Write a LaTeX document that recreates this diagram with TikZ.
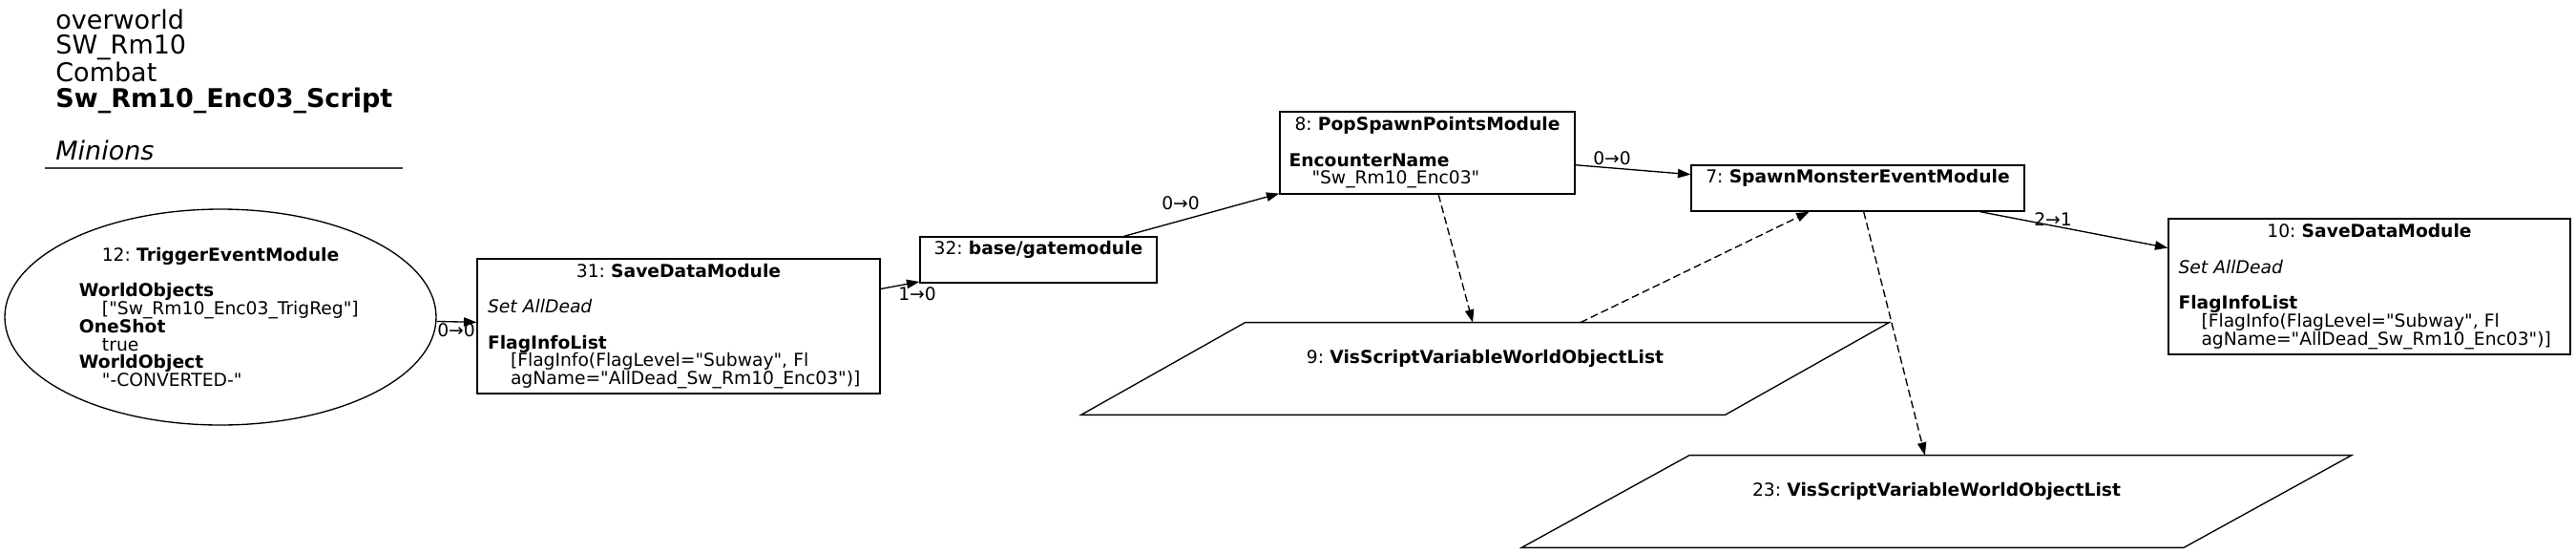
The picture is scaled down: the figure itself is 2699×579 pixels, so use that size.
\documentclass[tikz,border=0pt]{standalone}
\usepackage{fontspec}
\setmainfont{DejaVu Sans}[Ligatures=TeXOff]
\usetikzlibrary{arrows.meta}
\usetikzlibrary{shapes}
\usetikzlibrary{calc}
\frenchspacing
\newcommand{\nodefont}{\fontsize{9.35pt}{9.35pt}\selectfont}
\newcommand{\titlefont}{\fontsize{13.5pt}{13.35pt}\selectfont}
\newcommand{\ind}{\hspace*{12pt}}
\newcommand{\ctr}[1]{\makebox[\linewidth][c]{#1}}
\newcommand{\gap}{\\[9.35pt]}
\tikzset{
	module/.style={rectangle, draw, line width=0.67pt, inner sep=0pt, align=left, font=\nodefont}
}
\tikzstyle{oval}=[ellipse, draw, line width=0.67pt, inner sep=0pt, align=left, font=\nodefont]
\tikzstyle{varlist}=[rectangle, inner sep=0pt, align=center, text width=200pt, minimum height=48pt, font=\nodefont]
\tikzstyle{varshape}=[line width=0.67pt]
\tikzstyle{flow}=[-{Triangle[length=6.7pt,width=4.7pt]}, line width=0.67pt]
\tikzstyle{wire}=[flow, dash pattern=on 4pt off 2pt]
\tikzstyle{edgelabel}=[inner sep=0pt, anchor=base, font=\nodefont]

\begin{document}
\begin{tikzpicture}[x=0.5pt, y=-0.5pt]
	\useasboundingbox (0,0) rectangle (2699,579);
	% title
	\node[inner sep=0pt, anchor=base west, align=left, text width=200pt, font=\titlefont] (title) at (58,30)
		{overworld\\ SW\_Rm10\\ Combat\\ \textbf{Sw\_Rm10\_Enc03\_Script}\\[13.35pt] \textit{Minions}};
	\draw[line width=0.9pt, black!75] (47,176) -- (422,176);
	% modules
	\node[oval, minimum width=226pt, minimum height=113pt, text width=148pt] (v12) at (231,332)
		{\ctr{12: \textbf{TriggerEventModule}}\gap \textbf{WorldObjects}\\ \ind["Sw\_Rm10\_Enc03\_TrigReg"]\\ \textbf{OneShot}\\ \ind true\\ \textbf{WorldObject}\\ \ind"-CONVERTED-"};
	\node[module, minimum width=211pt, minimum height=70.5pt, text width=200pt] (v31) at (711,341.5)
		{\ctr{31: \textbf{SaveDataModule}}\gap \textit{Set AllDead}\gap \textbf{FlagInfoList}\\ \ind[FlagInfo(FlagLevel="Subway", Fl\\ \ind agName="AllDead\_Sw\_Rm10\_Enc03")]};
	\node[module, minimum width=124pt, minimum height=24pt, text width=116pt] (v32) at (1088,272)
		{\ctr{32: \textbf{base/gatemodule}}\\ \strut};
	\node[module, minimum width=154.5pt, minimum height=43pt, text width=145pt] (v8) at (1495.5,160)
		{\ctr{8: \textbf{PopSpawnPointsModule}}\gap \textbf{EncounterName}\\ \ind"Sw\_Rm10\_Enc03"};
	\node[module, minimum width=174.5pt, minimum height=24pt, text width=165pt] (v7) at (1946.5,197)
		{\ctr{7: \textbf{SpawnMonsterEventModule}}\\ \strut};
	\node[module, minimum width=210.5pt, minimum height=71pt, text width=200pt] (v10) at (2482.5,300)
		{\ctr{10: \textbf{SaveDataModule}}\gap \textit{Set AllDead}\gap \textbf{FlagInfoList}\\ \ind[FlagInfo(FlagLevel="Subway", Fl\\ \ind agName="AllDead\_Sw\_Rm10\_Enc03")]};
	% variable lists
	\node[varlist, minimum width=337pt] (v9) at (1556,386) {9: \textbf{VisScriptVariableWorldObjectList}\\ \strut};
	\node[varlist, minimum width=346.5pt] (v23) at (2029,525) {23: \textbf{VisScriptVariableWorldObjectList}\\ \strut};
	\draw[varshape] ($(v9.north west)+(86,0)$) -- ($(v9.north east)+(86,0)$) -- ($(v9.south east)+(-86,0)$) -- ($(v9.south west)+(-86,0)$) -- cycle;
	\draw[varshape] ($(v23.north west)+(88,0)$) -- ($(v23.north east)+(88,0)$) -- ($(v23.south east)+(-88,0)$) -- ($(v23.south west)+(-88,0)$) -- cycle;
	% edges
	\draw[flow] (v12) -- (v31);
	\draw[flow] (v31) -- (v32);
	\draw[flow] (v32) -- (v8);
	\draw[flow] (v8) -- (v7);
	\draw[flow] (v7) -- (v10);
	\draw[wire] (v8) -- (v9);
	\draw[wire] (v9) -- (v7);
	\draw[wire] (v7) -- (v23);
	\node[edgelabel] (l12) at (478,352) {0→0};
	\node[edgelabel] (l31) at (961,314) {1→0};
	\node[edgelabel] (l32) at (1237,219) {0→0};
	\node[edgelabel] (l8) at (1689,172) {0→0};
	\node[edgelabel] (l7) at (2151,236) {2→1};
\end{tikzpicture}
\end{document}
